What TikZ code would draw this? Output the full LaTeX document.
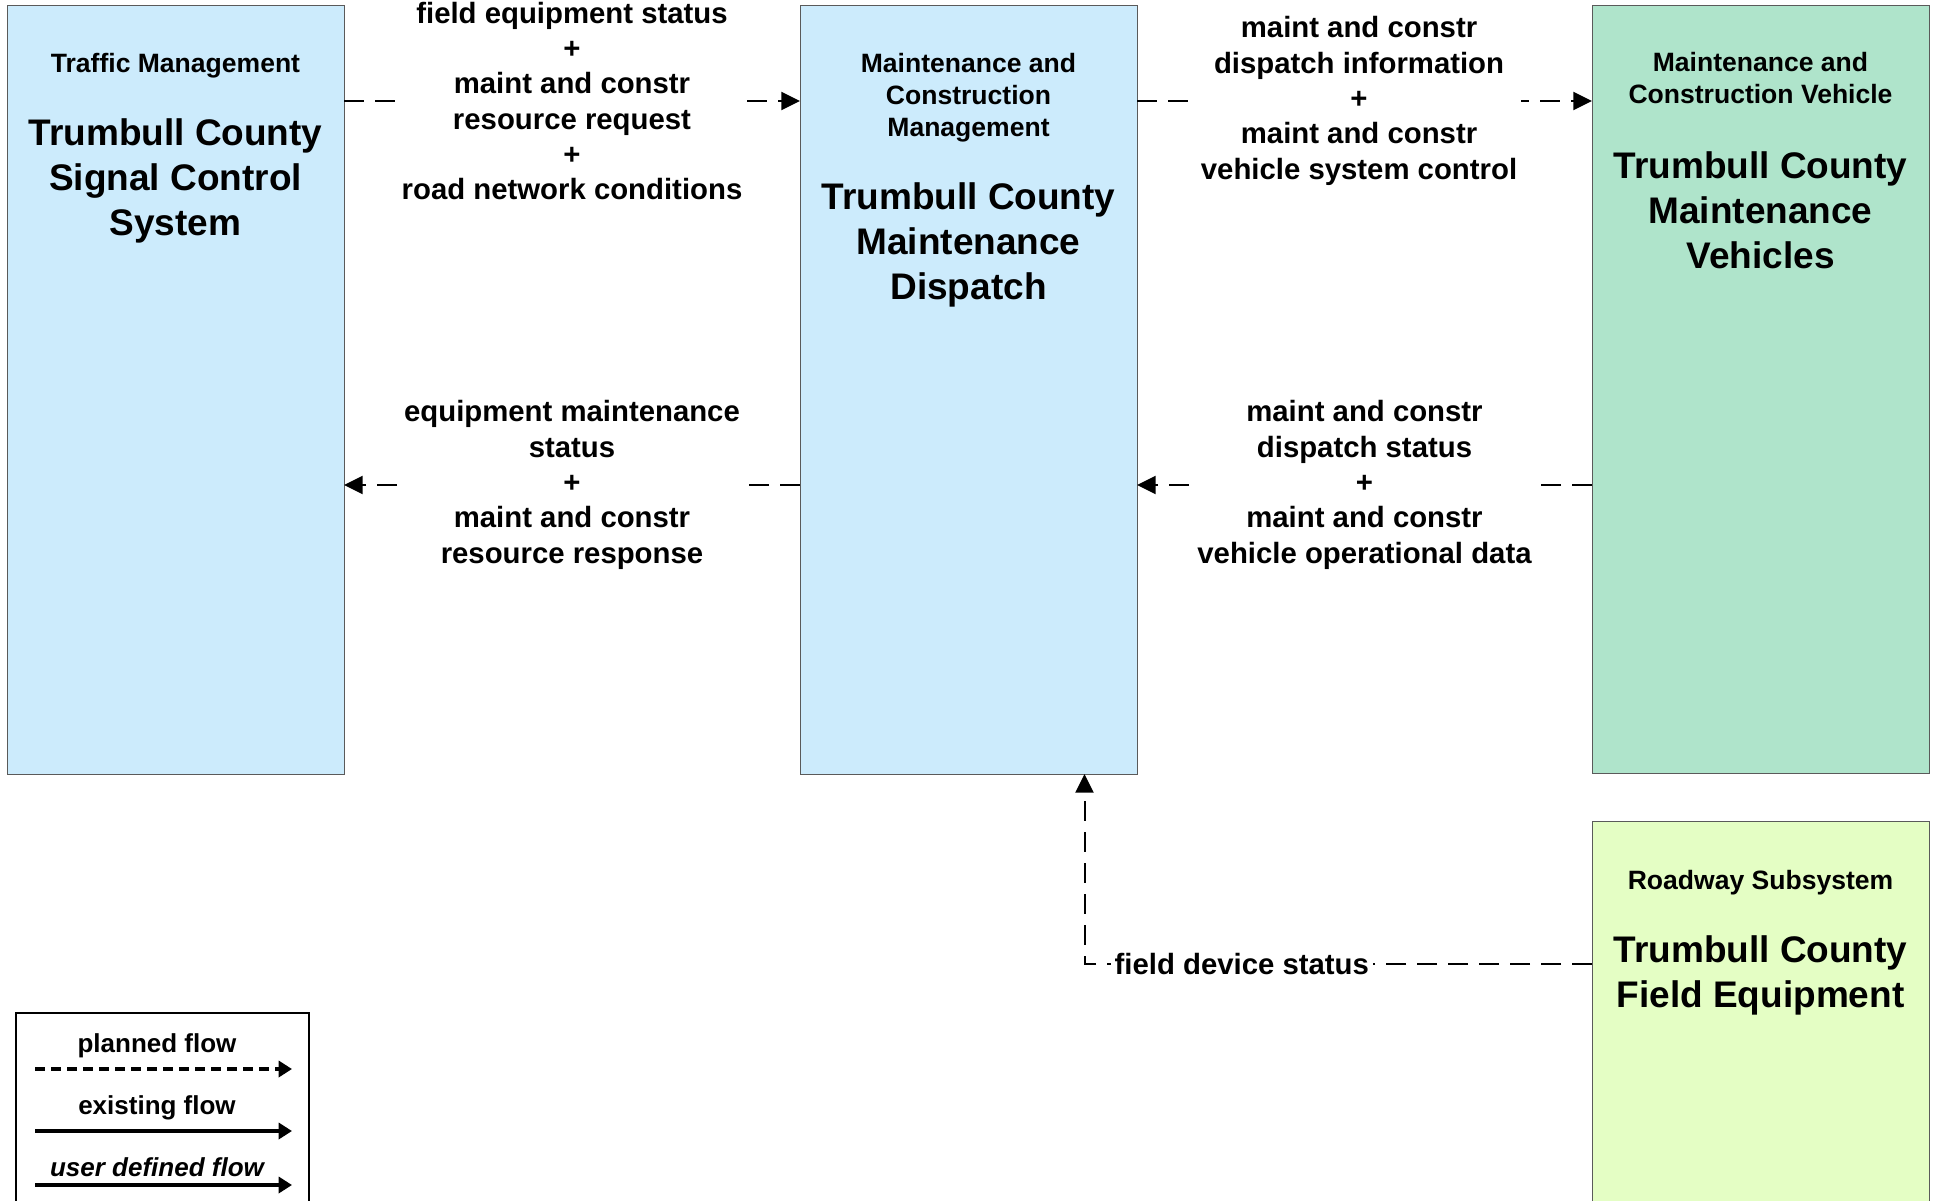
\documentclass[tikz,border=0pt]{standalone}
\usepackage{fontspec}
\setmainfont{Liberation Sans}
\usetikzlibrary{arrows.meta}
\definecolor{sysblue}{RGB}{204,235,252}
\definecolor{sysgreen}{RGB}{175,228,203}
\definecolor{sysyellow}{RGB}{228,254,196}
\definecolor{edgegray}{RGB}{90,90,90}
\begin{document}
\begin{tikzpicture}[x=0.75pt,y=-0.75pt,
  sysbox/.style={draw=edgegray, line width=0.75pt, inner sep=0pt, outer sep=0pt, anchor=north west},
  smalltxt/.style={font=\fontsize{19.9}{24}\selectfont\bfseries, align=center, inner sep=0pt},
  bigtxt/.style={font=\fontsize{27.75}{33.75}\selectfont\bfseries, align=center, inner sep=0pt},
  lbl/.style={font=\fontsize{22}{26.5}\selectfont\bfseries, align=center, fill=white, inner sep=3pt},
  flow/.style={line width=1.5pt, dash pattern=on 15pt off 8.25pt, -{Triangle[length=14pt,width=13.5pt]}},
  legtxt/.style={font=\fontsize{19.5}{23}\selectfont\bfseries, inner sep=0pt},
  legtip/.style={-{Triangle[length=10pt,width=12pt]}},
]
\useasboundingbox (0,0) rectangle (1935,1200);

% system boxes
\node[sysbox, fill=sysblue, minimum width=252.75pt, minimum height=576.75pt] (b1) at (7,5) {};
\node[sysbox, fill=sysblue, minimum width=252.75pt, minimum height=576.75pt] (b2) at (800,5) {};
\node[sysbox, fill=sysgreen, minimum width=252.75pt, minimum height=576pt] (b3) at (1592,5) {};
\node[sysbox, fill=sysyellow, minimum width=252.75pt, minimum height=295.5pt] (b4) at (1592,821) {};

% box texts
\node[smalltxt] (t1) at (175.5,66) {Traffic Management};
\node[bigtxt] (n1) at (175.5,181) {Trumbull County\\Signal Control\\System};
\node[smalltxt] (t2) at (968.5,98) {Maintenance and\\Construction\\Management};
\node[bigtxt] (n2) at (968.5,244.6) {Trumbull County\\Maintenance\\Dispatch};
\node[smalltxt] (t3) at (1760.5,78) {Maintenance and\\Construction Vehicle};
\node[bigtxt] (n3) at (1760.5,210) {Trumbull County\\Maintenance\\Vehicles};
\node[smalltxt] (t4) at (1760.5,883) {Roadway Subsystem};
\node[bigtxt] (n4) at (1760.5,975.5) {Trumbull County\\Field Equipment};

% flows
\coordinate (ya) at (0,101);
\coordinate (yb) at (0,485);
\coordinate (cr) at (1084.5,964);

\draw[flow] (b1.east |- ya) -- node[lbl]{field equipment status\\+\\maint and constr\\resource request\\+\\road network conditions} (b2.west |- ya);
\draw[flow] (b2.east |- ya) -- node[lbl, pos=0.488]{maint and constr\\dispatch information\\+\\maint and constr\\vehicle system control} (b3.west |- ya);
\draw[flow] (b2.west |- yb) -- node[lbl]{equipment maintenance\\status\\+\\maint and constr\\resource response} (b1.east |- yb);
\draw[flow] (b3.west |- yb) -- node[lbl]{maint and constr\\dispatch status\\+\\maint and constr\\vehicle operational data} (b2.east |- yb);
\draw[flow] (b4.west |- cr) -- node[lbl, pos=0.69]{field device status} (cr) -- (b2.south -| cr);

% legend
\node[sysbox, draw=black, fill=white, line width=1.5pt, minimum width=219.75pt, minimum height=151.5pt] (leg) at (16,1013) {};
\node[legtxt] (lp) at (157,1046) {planned flow};
\coordinate (lpa) at (35,1069);
\coordinate (lpb) at (292,1069);
\draw[legtip, line width=3pt, dash pattern=on 7.5pt off 4.5pt] (lpa) -- (lpb);
\node[legtxt] (le) at (157,1108) {existing flow};
\coordinate (lea) at (35,1131);
\coordinate (leb) at (292,1131);
\draw[legtip, line width=2.5pt] (lea) -- (leb);
\node[legtxt, font=\fontsize{19.5}{23}\selectfont\bfseries\itshape] (lu) at (157,1167) {user defined flow};
\coordinate (lua) at (35,1185);
\coordinate (lub) at (292,1185);
\draw[legtip, line width=2.5pt] (lua) -- (lub);
\end{tikzpicture}
\end{document}
